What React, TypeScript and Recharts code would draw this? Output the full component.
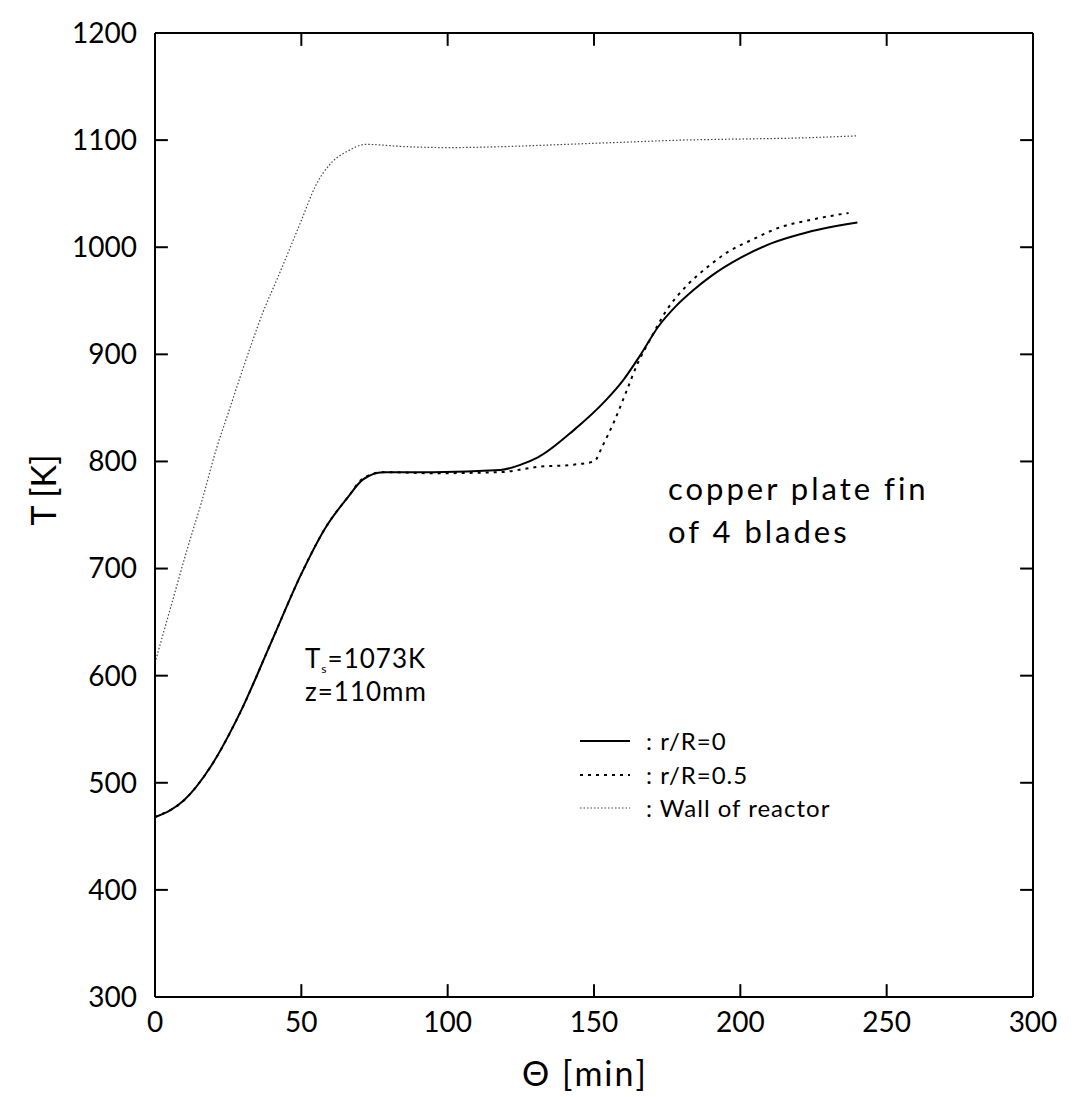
import React from 'react';
import { LineChart, Line, XAxis, YAxis, ReferenceLine, Customized } from 'recharts';

// Axis ticks
const xTicks = [0, 50, 100, 150, 200, 250, 300];
const yTicks = [300, 400, 500, 600, 700, 800, 900, 1000, 1100, 1200];

// r/R = 0 (solid)
const timeCenter = [0, 5, 10, 19, 29, 40, 50, 58, 66, 71, 78, 95, 118, 125, 131, 143, 154, 160, 166, 172, 178, 184, 190, 200, 211, 223, 240];
const tempCenter = [468, 474, 484, 515, 565, 633, 695, 737, 767, 783, 790, 790, 792, 797, 804, 829, 857, 876, 900, 926, 945, 960, 973, 990, 1004, 1014, 1023];

// r/R = 0.5 (dotted)
const timeHalf = [0, 10, 19, 29, 40, 50, 58, 66, 71, 78, 95, 118, 131, 143, 150, 153, 157, 161, 165, 169, 175, 182, 189, 196, 204, 214, 223, 237];
const tempHalf = [468, 484, 515, 565, 633, 695, 737, 767, 784, 790, 789, 790, 795, 797, 800, 815, 838, 865, 892, 913, 942, 965, 982, 996, 1007, 1019, 1025, 1032];

// Wall of reactor (fine dotted)
const timeWall = [0, 6, 11, 16, 21, 25, 29, 33, 37, 42, 50, 55, 60, 66, 72, 85, 100, 120, 140, 160, 180, 200, 220, 240];
const tempWall = [612, 670, 718, 763, 812, 845, 878, 910, 940, 972, 1025, 1058, 1078, 1090, 1096, 1094, 1093, 1094, 1096, 1098, 1100, 1101, 1102, 1104];

const seriesNames = [': r/R=0', ': r/R=0.5', ': Wall of reactor'];

const toPoints = (xs: number[], ys: number[]) => xs.map((t, i) => ({ t, T: ys[i] }));
const centerData = toPoints(timeCenter, tempCenter);
const halfData = toPoints(timeHalf, tempHalf);
const wallData = toPoints(timeWall, tempWall);

const X_MIN = 0, X_MAX = 300, Y_MIN = 300, Y_MAX = 1200;
// inward tick length expressed in data units (~13 px)
const TICK_DX = 4.4;
const TICK_DY = 12;

const FONT = 'Lato, "DejaVu Sans", sans-serif';

function Annotations() {
  return (
    <g fontFamily={FONT} fill="#000">
      <text x={668} y={500} fontSize={31} letterSpacing={3}>copper plate fin</text>
      <text x={668} y={543} fontSize={31} letterSpacing={3}>of 4 blades</text>

      <text x={305} y={668} fontSize={26} letterSpacing={1}>
        <tspan>T</tspan>
        <tspan dy={5} fontSize={12}>s</tspan>
        <tspan dy={-5}>=1073K</tspan>
      </text>
      <text x={305} y={701} fontSize={26} letterSpacing={1}>z=110mm</text>

      <line x1={580} x2={630} y1={741} y2={741} stroke="#000" strokeWidth={2} />
      <line x1={580} x2={630} y1={775} y2={775} stroke="#000" strokeWidth={2} strokeDasharray="3 5" />
      <line x1={580} x2={630} y1={808} y2={808} stroke="#444" strokeWidth={1.2} strokeDasharray="1.5 2" />
      <text x={646} y={750} fontSize={24} letterSpacing={1}>{seriesNames[0]}</text>
      <text x={646} y={784} fontSize={24} letterSpacing={1}>{seriesNames[1]}</text>
      <text x={646} y={817} fontSize={24} letterSpacing={1}>{seriesNames[2]}</text>

      <text x={42} y={490} fontSize={34} textAnchor="middle" dominantBaseline="central" transform="rotate(-90 42 490)">T [K]</text>
      <text x={585} y={1072} fontSize={34} textAnchor="middle" dominantBaseline="central" letterSpacing={2}>Θ [min]</text>
    </g>
  );
}

export default function App() {
  const tickStyle = { fontSize: 28, fill: '#000', fontFamily: FONT };
  const tickLineProps = { stroke: '#000', strokeWidth: 2 };
  return (
    <div style={{ position: 'absolute', left: 0, top: 0, background: '#fff' }}>
      <LineChart width={1081} height={1097} margin={{ top: 32, right: 47, bottom: 0, left: 0 }}>
        <XAxis
          xAxisId="b"
          type="number"
          dataKey="t"
          domain={[X_MIN, X_MAX]}
          ticks={xTicks}
          interval={0}
          height={100}
          tickSize={0}
          tickMargin={15}
          tick={tickStyle}
          tickLine={false}
          axisLine={{ stroke: '#000', strokeWidth: 2 }}
          allowDataOverflow
        />
        <XAxis
          xAxisId="top"
          orientation="top"
          type="number"
          dataKey="t"
          domain={[X_MIN, X_MAX]}
          ticks={xTicks}
          height={1}
          tick={false}
          tickLine={false}
          axisLine={{ stroke: '#000', strokeWidth: 2 }}
        />
        <YAxis
          yAxisId="l"
          type="number"
          dataKey="T"
          domain={[Y_MIN, Y_MAX]}
          ticks={yTicks}
          interval={0}
          width={155}
          tickSize={0}
          tickMargin={18}
          tick={tickStyle}
          tickLine={false}
          axisLine={{ stroke: '#000', strokeWidth: 2 }}
          allowDataOverflow
        />
        <YAxis
          yAxisId="r"
          orientation="right"
          type="number"
          dataKey="T"
          domain={[Y_MIN, Y_MAX]}
          ticks={yTicks}
          width={1}
          tick={false}
          tickLine={false}
          axisLine={{ stroke: '#000', strokeWidth: 2 }}
        />

        {yTicks.map((v) => (
          <ReferenceLine
            key={'l' + v}
            xAxisId="b"
            yAxisId="l"
            segment={[{ x: X_MIN, y: v }, { x: X_MIN + TICK_DX, y: v }]}
            {...tickLineProps}
          />
        ))}
        {yTicks.map((v) => (
          <ReferenceLine
            key={'r' + v}
            xAxisId="b"
            yAxisId="l"
            segment={[{ x: X_MAX - TICK_DX, y: v }, { x: X_MAX, y: v }]}
            {...tickLineProps}
          />
        ))}
        {xTicks.map((v) => (
          <ReferenceLine
            key={'b' + v}
            xAxisId="b"
            yAxisId="l"
            segment={[{ x: v, y: Y_MIN }, { x: v, y: Y_MIN + TICK_DY }]}
            {...tickLineProps}
          />
        ))}
        {xTicks.map((v) => (
          <ReferenceLine
            key={'t' + v}
            xAxisId="b"
            yAxisId="l"
            segment={[{ x: v, y: Y_MAX - TICK_DY }, { x: v, y: Y_MAX }]}
            {...tickLineProps}
          />
        ))}

        <Line
          xAxisId="b"
          yAxisId="l"
          data={wallData}
          dataKey="T"
          type="monotone"
          stroke="#444"
          strokeWidth={1.2}
          strokeDasharray="1.5 2"
          dot={false}
          isAnimationActive={false}
        />
        <Line
          xAxisId="b"
          yAxisId="l"
          data={halfData}
          dataKey="T"
          type="monotone"
          stroke="#000"
          strokeWidth={2}
          strokeDasharray="3 5"
          dot={false}
          isAnimationActive={false}
        />
        <Line
          xAxisId="b"
          yAxisId="l"
          data={centerData}
          dataKey="T"
          type="monotone"
          stroke="#000"
          strokeWidth={2}
          dot={false}
          isAnimationActive={false}
        />
        <Customized component={Annotations} />
      </LineChart>
    </div>
  );
}
